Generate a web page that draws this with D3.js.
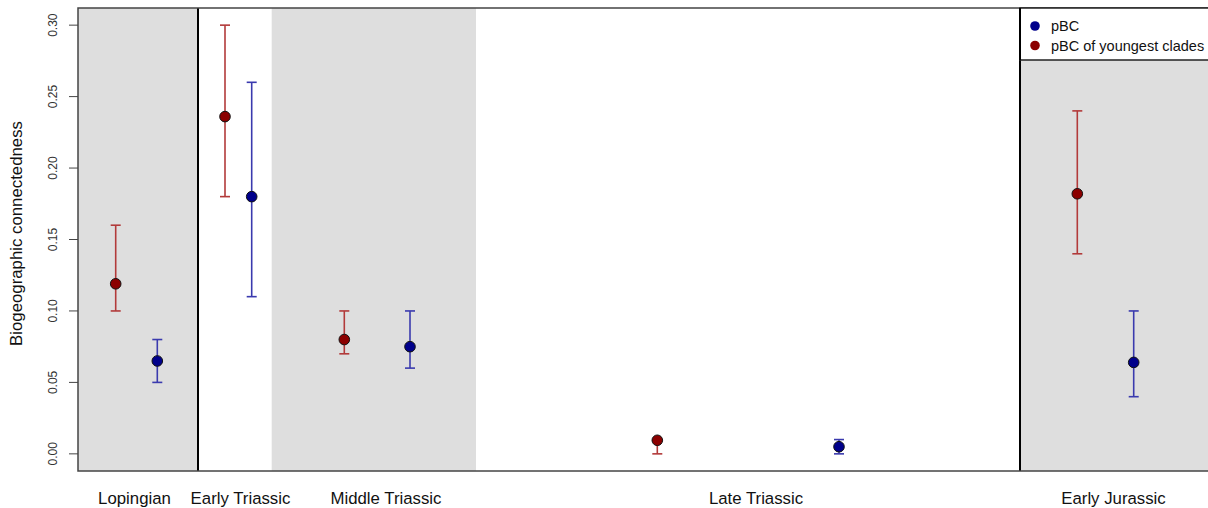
<!DOCTYPE html>
<html>
<head>
<meta charset="utf-8">
<script src="https://cdn.jsdelivr.net/npm/d3@7"></script>
<style>
  html, body { margin: 0; padding: 0; background: #fff; }
  svg { display: block; font-family: "Liberation Sans", Arial, Helvetica, sans-serif; }
</style>
</head>
<body>
<svg id="chart" width="1208" height="508"></svg>
<script>
// Stratigraphic intervals along the horizontal position axis
const intervals = ["Lopingian", "Early Triassic", "Middle Triassic", "Late Triassic", "Early Jurassic"];
const intervalEdges = [0, 12, 19.37, 39.8, 94.2, 114];
const shaded = [true, false, true, false, true];
const labelPos = [5.65, 16.25, 30.8, 67.8, 103.55];
const boundaryLines = [12, 94.2];

// pBC of youngest clades (red)
const youngX = [3.77, 14.7, 26.63, 57.93, 99.93];
const youngVal = [0.119, 0.236, 0.080, 0.0095, 0.182];
const youngLo = [0.10, 0.18, 0.07, 0.00, 0.14];
const youngHi = [0.16, 0.30, 0.10, 0.0095, 0.24];

// pBC (blue)
const pbcX = [7.93, 17.37, 33.2, 76.1, 105.57];
const pbcVal = [0.065, 0.180, 0.075, 0.005, 0.064];
const pbcLo = [0.05, 0.11, 0.06, 0.00, 0.04];
const pbcHi = [0.08, 0.26, 0.10, 0.01, 0.10];

const yTicks = [0, 0.05, 0.10, 0.15, 0.20, 0.25, 0.30];

const svg = d3.select("#chart");
const plot = { left: 78, top: 8, bottom: 471, right: 1218 };

const x = d3.scaleLinear().domain([0, 113]).range([78, 1208]);
// data range 0..0.30 padded by 4% on each side
const y = d3.scaleLinear().domain([-0.012, 0.312]).range([plot.bottom, plot.top]);

// interval shading
svg.append("g").selectAll("rect")
  .data(intervals.map((d, i) => ({ name: d, x0: intervalEdges[i], x1: intervalEdges[i + 1], fill: shaded[i] })))
  .join("rect")
  .attr("x", d => x(d.x0))
  .attr("y", plot.top)
  .attr("width", d => x(d.x1) - x(d.x0))
  .attr("height", plot.bottom - plot.top)
  .attr("fill", d => d.fill ? "#dedede" : "#ffffff");

// era boundaries
svg.append("g").selectAll("line")
  .data(boundaryLines)
  .join("line")
  .attr("x1", d => x(d)).attr("x2", d => x(d))
  .attr("y1", plot.top).attr("y2", plot.bottom)
  .attr("stroke", "#000").attr("stroke-width", 2);

function series(xs, vals, lo, hi, barColor, fill) {
  const data = xs.map((d, i) => ({ x: d, v: vals[i], lo: lo[i], hi: hi[i] }));
  const g = svg.append("g");
  const cap = 5;
  g.selectAll("line.stem").data(data).join("line")
    .attr("x1", d => x(d.x)).attr("x2", d => x(d.x))
    .attr("y1", d => y(d.lo)).attr("y2", d => y(d.hi))
    .attr("stroke", barColor).attr("stroke-width", 1.6);
  g.selectAll("line.capLo").data(data).join("line")
    .attr("x1", d => x(d.x) - cap).attr("x2", d => x(d.x) + cap)
    .attr("y1", d => y(d.lo)).attr("y2", d => y(d.lo))
    .attr("stroke", barColor).attr("stroke-width", 1.6);
  g.selectAll("line.capHi").data(data).join("line")
    .attr("x1", d => x(d.x) - cap).attr("x2", d => x(d.x) + cap)
    .attr("y1", d => y(d.hi)).attr("y2", d => y(d.hi))
    .attr("stroke", barColor).attr("stroke-width", 1.6);
  g.selectAll("circle").data(data).join("circle")
    .attr("cx", d => x(d.x)).attr("cy", d => y(d.v)).attr("r", 5.3)
    .attr("fill", fill).attr("stroke", "#111").attr("stroke-width", 1);
}
series(youngX, youngVal, youngLo, youngHi, "#b23a3a", "#8b0000");
series(pbcX, pbcVal, pbcLo, pbcHi, "#3a3aae", "#00008b");

// plot frame
svg.append("rect")
  .attr("x", plot.left).attr("y", plot.top)
  .attr("width", plot.right - plot.left).attr("height", plot.bottom - plot.top)
  .attr("fill", "none").attr("stroke", "#444").attr("stroke-width", 1.5);

// y axis
const yAxis = svg.append("g");
yAxis.selectAll("line").data(yTicks).join("line")
  .attr("x1", plot.left - 9).attr("x2", plot.left)
  .attr("y1", d => y(d)).attr("y2", d => y(d))
  .attr("stroke", "#444").attr("stroke-width", 1);
yAxis.selectAll("text").data(yTicks).join("text")
  .attr("transform", d => `translate(57,${y(d)}) rotate(-90)`)
  .attr("text-anchor", "middle")
  .attr("font-size", 12)
  .attr("fill", "#333")
  .text(d3.format(".2f"));

svg.append("text")
  .attr("transform", `translate(22,${(plot.top + plot.bottom) / 2 - 6}) rotate(-90)`)
  .attr("text-anchor", "middle")
  .attr("font-size", 16.8)
  .attr("fill", "#111")
  .text("Biogeographic connectedness");

// interval names
svg.append("g").selectAll("text")
  .data(intervals)
  .join("text")
  .attr("x", (d, i) => x(labelPos[i]))
  .attr("y", 504)
  .attr("text-anchor", "middle")
  .attr("font-size", 16.8)
  .attr("fill", "#111")
  .text(d => d);

// legend
const legend = svg.append("g");
legend.append("rect")
  .attr("x", x(94.2)).attr("y", plot.top)
  .attr("width", 300).attr("height", 60 - plot.top)
  .attr("fill", "#fff").attr("stroke", "#222").attr("stroke-width", 1.5);
legend.append("line")
  .attr("x1", x(94.2)).attr("x2", x(94.2)).attr("y1", plot.top).attr("y2", 60)
  .attr("stroke", "#000").attr("stroke-width", 2);
const legendItems = [
  { label: "pBC", color: "#00008b" },
  { label: "pBC of youngest clades", color: "#8b0000" }
];
legendItems.forEach((d, i) => {
  legend.append("circle")
    .attr("cx", 1035).attr("cy", 26 + i * 19.5).attr("r", 4.8)
    .attr("fill", d.color);
  legend.append("text")
    .attr("x", 1051).attr("y", 26 + i * 19.5)
    .attr("dominant-baseline", "central")
    .attr("font-size", 14.5)
    .attr("fill", "#111")
    .text(d.label);
});
</script>
</body>
</html>
